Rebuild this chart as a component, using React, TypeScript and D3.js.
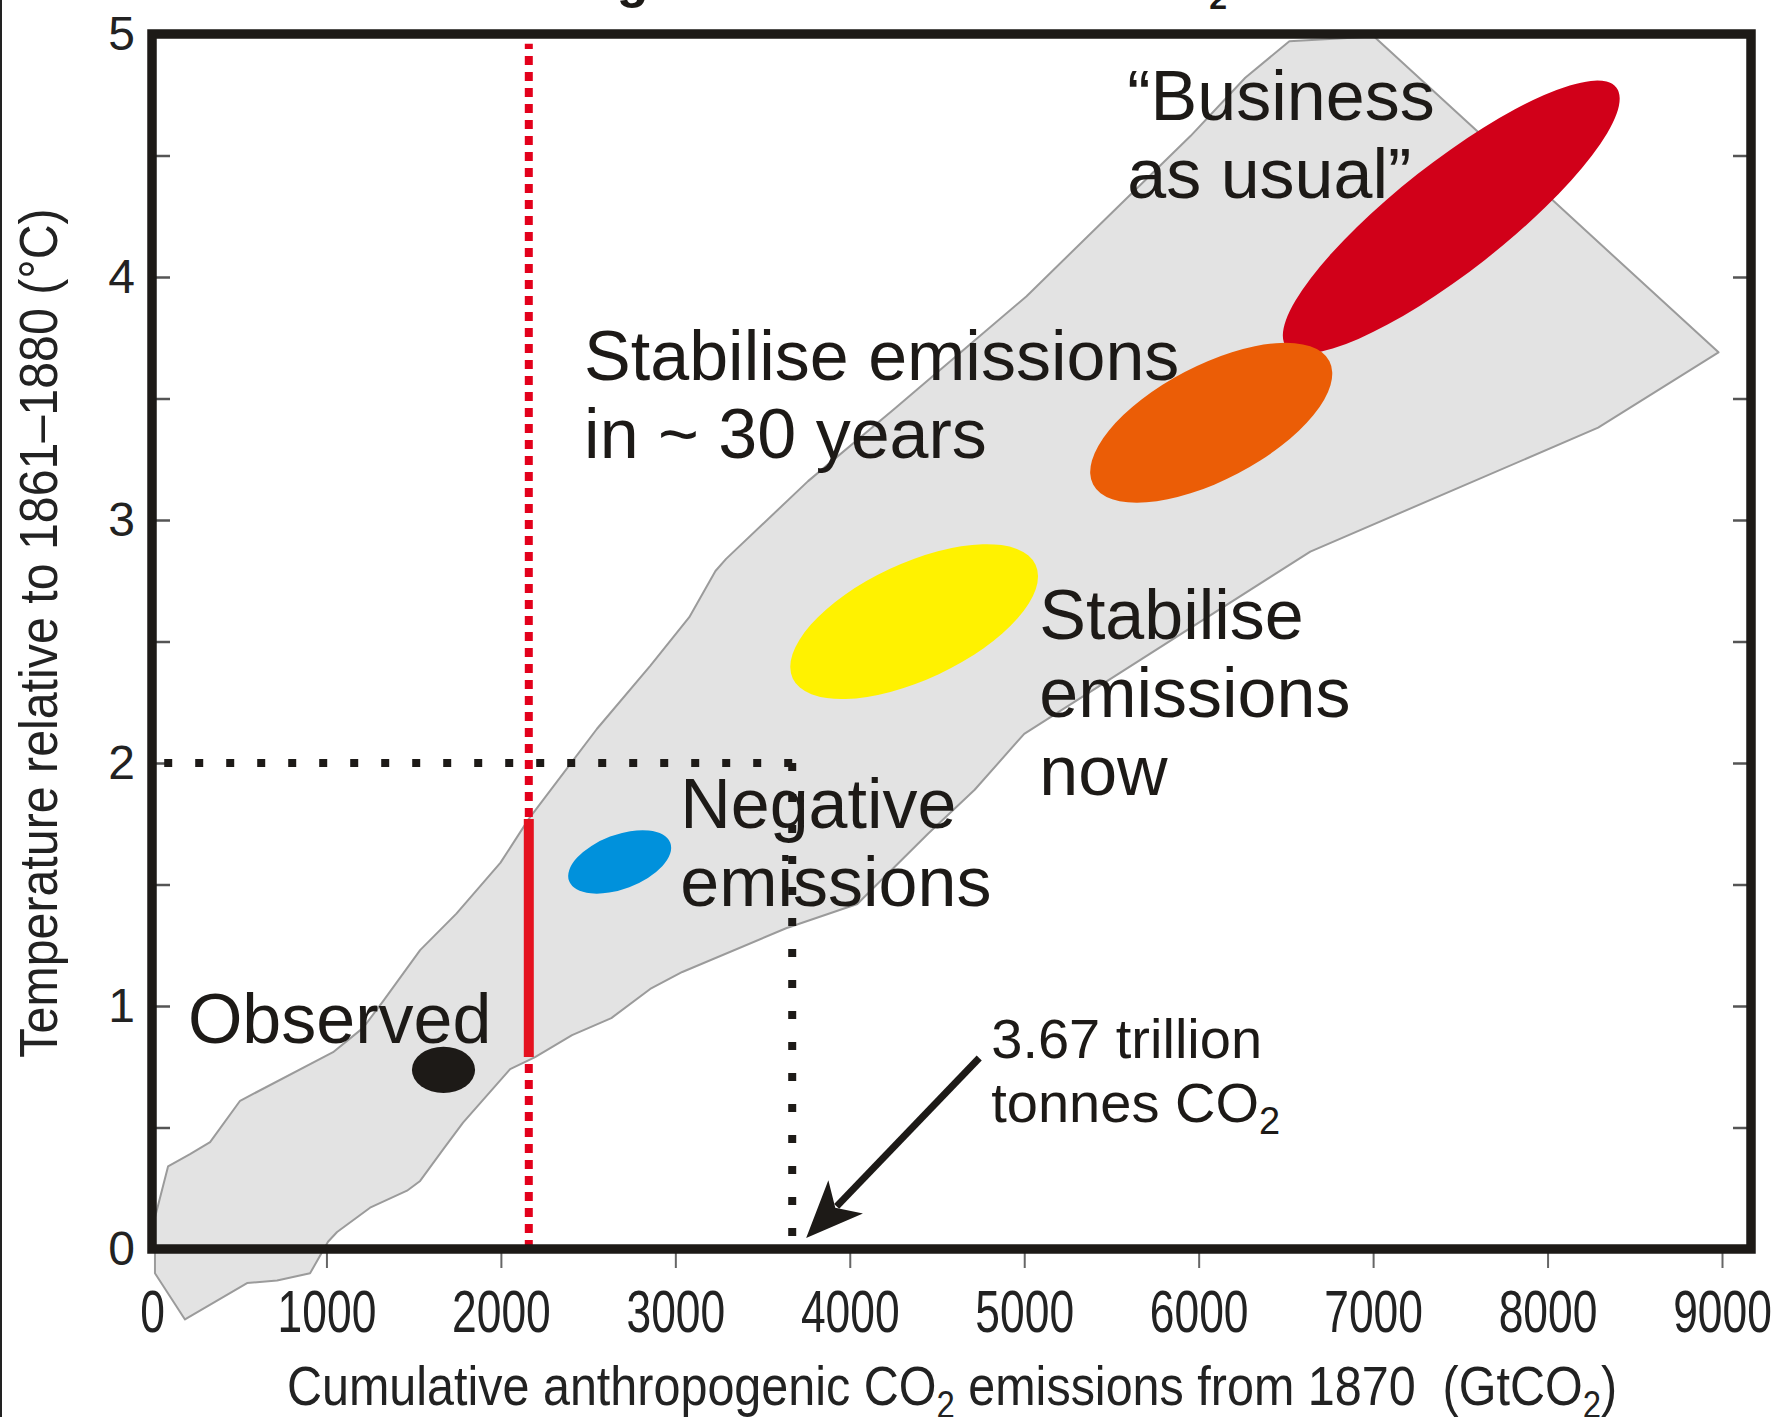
import { useEffect, useRef } from "react";
import * as d3 from "d3";

const WIDTH = 1788;
const HEIGHT = 1417;

const xTicks = [0, 1000, 2000, 3000, 4000, 5000, 6000, 7000, 8000, 9000];
const yTicks = [0, 1, 2, 3, 4, 5];
const yMinorTicks = [0.5, 1, 1.5, 2, 2.5, 3, 3.5, 4, 4.5];

// model envelope (GtCO2, °C): lower edge left -> right
const envelopeLower: [number, number][] = [
  [17, 0.13], [17, -0.1], [189, -0.29], [545, -0.14], [717, -0.13], [906, -0.1],
  [1009, 0.03], [1061, 0.07], [1250, 0.17], [1462, 0.24], [1537, 0.28], [1669, 0.41],
  [1783, 0.52], [2053, 0.74], [2196, 0.79], [2408, 0.88], [2633, 0.95], [2856, 1.07],
  [3040, 1.14], [3635, 1.32], [4043, 1.42], [4450, 1.71], [4716, 1.89], [5000, 2.12],
  [6640, 2.87], [8290, 3.38], [8980, 3.69],
];
// upper edge right -> left
const envelopeUpper: [number, number][] = [
  [7005, 4.99], [6520, 4.97], [6267, 4.82], [5953, 4.58], [5482, 4.25], [5012, 3.92],
  [4702, 3.73], [4260, 3.46], [3761, 3.16], [3291, 2.84], [3230, 2.79], [3080, 2.6],
  [2856, 2.4], [2550, 2.14], [2160, 1.77], [1998, 1.59], [1745, 1.38], [1537, 1.23],
  [1325, 1.02], [1210, 0.91], [1038, 0.81], [505, 0.61], [333, 0.44], [218, 0.39], [92, 0.34],
];

// scenario blobs, drawn in this order (orange sits over red)
const scenarioNames = ["Observed", "Negative emissions", "Stabilise emissions now", "Business as usual", "Stabilise emissions in ~30 years"];
const scenarioCentre: [number, number][] = [[1671, 0.737], [2681, 1.593], [4369, 2.582], [7448, 4.247], [6072, 3.4]];
const scenarioAxisEnd: [number, number][] = [[1852, 0.737], [2971, 1.672], [5065, 2.816], [8394, 4.78], [6749, 3.654]];
const scenarioAspect = [0.73, 0.5, 0.433, 0.26, 0.43];
const scenarioColour = ["#1d1a17", "#0091dc", "#fff200", "#d10019", "#eb5d06"];

const labelLines: string[][] = [
  ["Observed"],
  ["Negative", "emissions"],
  ["Stabilise", "emissions", "now"],
  ["\u201cBusiness", "as usual\u201d"],
  ["Stabilise emissions", "in ~ 30 years"],
];
const labelAnchor: [number, number][] = [[206, 0.848], [3028, 1.733], [5086, 2.51], [5591, 4.646], [2477, 3.576]];

const budget = 3670; // GtCO2 for 2 °C
const warmingTarget = 2;
const emittedSoFar = 2160;
const emittedRange: [number, number] = [0.79, 1.77];
const dashedTop = 4.96;
const dottedStart = 60;

const arrowFrom: [number, number] = [4742, 0.786];
const arrowTo: [number, number] = [3750, 0.045];
const budgetLabelAnchor: [number, number] = [4811, 0.786];

const INK = "#1d1a17";
const SANS = "'Liberation Sans', Arial, sans-serif";

export default function App() {
  const ref = useRef<SVGSVGElement>(null);

  useEffect(() => {
    if (!ref.current) return;
    const svg = d3.select(ref.current);
    svg.selectAll("*").remove();

    const frame = { left: 152, top: 34, right: 1751, bottom: 1249 };
    const x = d3.scaleLinear().domain([0, 9000]).range([frame.left, 1722]);
    const y = d3.scaleLinear().domain([0, 5]).range([frame.bottom, frame.top]);

    // left page edge
    svg.append("rect").attr("x", 0).attr("y", 0).attr("width", 2).attr("height", HEIGHT).attr("fill", "#222");

    // title, cropped off the top in the source
    const title = svg.append("text")
      .attr("x", 428).attr("y", -3)
      .attr("font-family", SANS).attr("font-weight", "bold").attr("font-size", 52).attr("fill", INK);
    title.append("tspan").text("Warming versus cumulative CO");
    title.append("tspan").attr("font-size", 32).attr("dy", 12).text("2");
    title.append("tspan").attr("dy", -12).text(" emissions");

    // envelope
    const area = d3.line<[number, number]>()
      .x((d) => x(d[0]))
      .y((d) => y(d[1]))
      .curve(d3.curveLinearClosed);
    svg.append("path")
      .attr("d", area([...envelopeLower, ...envelopeUpper]))
      .attr("fill", "#e3e3e3")
      .attr("stroke", "#9b9b9b")
      .attr("stroke-width", 2)
      .attr("stroke-linejoin", "round");

    // inner ticks on both sides
    svg.append("g")
      .attr("transform", `translate(${frame.left},0)`)
      .call(d3.axisLeft(y).tickValues(yMinorTicks).tickSize(-18).tickFormat(() => ""))
      .call((g) => g.select(".domain").remove())
      .selectAll("line").attr("stroke", "#555").attr("stroke-width", 2.5);
    svg.append("g")
      .attr("transform", `translate(${frame.right},0)`)
      .call(d3.axisRight(y).tickValues(yMinorTicks).tickSize(-18).tickFormat(() => ""))
      .call((g) => g.select(".domain").remove())
      .selectAll("line").attr("stroke", "#555").attr("stroke-width", 2.5);

    // y tick labels
    const yAx = svg.append("g")
      .attr("transform", `translate(${frame.left},0)`)
      .call(d3.axisLeft(y).tickValues(yTicks).tickSize(0).tickPadding(17).tickFormat(d3.format("d")));
    yAx.select(".domain").remove();
    yAx.selectAll("text").attr("font-family", SANS).attr("font-size", 48).attr("fill", "#222");

    // x axis
    const xAx = svg.append("g")
      .attr("transform", `translate(0,${frame.bottom})`)
      .call(d3.axisBottom(x).tickValues(xTicks).tickSize(19).tickPadding(21).tickFormat(d3.format("d")));
    xAx.select(".domain").remove();
    xAx.selectAll("line").attr("stroke", "#666").attr("stroke-width", 2)
      .filter((d) => d === 0).remove();
    xAx.selectAll("text")
      .attr("font-family", SANS).attr("font-size", 60).attr("fill", "#222")
      .attr("transform", "scale(0.74,1)");

    // red line: emissions to date
    svg.append("line")
      .attr("x1", x(emittedSoFar)).attr("x2", x(emittedSoFar))
      .attr("y1", y(0)).attr("y2", y(dashedTop))
      .attr("stroke", "#e3001b").attr("stroke-width", 8).attr("stroke-dasharray", "9 7");
    svg.append("line")
      .attr("x1", x(emittedSoFar)).attr("x2", x(emittedSoFar))
      .attr("y1", y(emittedRange[0])).attr("y2", y(emittedRange[1]))
      .attr("stroke", "#e5121f").attr("stroke-width", 10);

    // 2 °C budget dotted lines
    svg.append("line")
      .attr("x1", x(budget)).attr("x2", x(dottedStart))
      .attr("y1", y(warmingTarget)).attr("y2", y(warmingTarget))
      .attr("stroke", INK).attr("stroke-width", 8).attr("stroke-dasharray", "8 23");
    svg.append("line")
      .attr("x1", x(budget)).attr("x2", x(budget))
      .attr("y1", y(warmingTarget)).attr("y2", y(0))
      .attr("stroke", INK).attr("stroke-width", 8).attr("stroke-dasharray", "8 23");

    // scenario ellipses
    scenarioNames.forEach((name, i) => {
      const cx = x(scenarioCentre[i][0]);
      const cy = y(scenarioCentre[i][1]);
      const ex = x(scenarioAxisEnd[i][0]);
      const ey = y(scenarioAxisEnd[i][1]);
      const a = Math.hypot(ex - cx, ey - cy);
      const angle = (Math.atan2(ey - cy, ex - cx) * 180) / Math.PI;
      svg.append("ellipse")
        .attr("class", name)
        .attr("cx", cx).attr("cy", cy)
        .attr("rx", a).attr("ry", a * scenarioAspect[i])
        .attr("transform", `rotate(${angle},${cx},${cy})`)
        .attr("fill", scenarioColour[i]);
    });

    // labels
    labelLines.forEach((lines, i) => {
      const t = svg.append("text")
        .attr("font-family", SANS).attr("font-size", 70).attr("fill", INK);
      lines.forEach((line, j) => {
        t.append("tspan")
          .attr("x", x(labelAnchor[i][0]))
          .attr("y", y(labelAnchor[i][1]) + j * 78)
          .text(line);
      });
    });

    // arrow to the budget
    const p0: [number, number] = [x(arrowFrom[0]), y(arrowFrom[1])];
    const p1: [number, number] = [x(arrowTo[0]), y(arrowTo[1])];
    const len = Math.hypot(p0[0] - p1[0], p0[1] - p1[1]);
    const ux = (p0[0] - p1[0]) / len;
    const uy = (p0[1] - p1[1]) / len;
    const px = -uy;
    const py = ux;
    svg.append("line")
      .attr("x1", p0[0]).attr("y1", p0[1])
      .attr("x2", p1[0] + ux * 44).attr("y2", p1[1] + uy * 44)
      .attr("stroke", INK).attr("stroke-width", 7);
    const head: [number, number][] = [
      p1,
      [p1[0] + ux * 57 + px * 24, p1[1] + uy * 57 + py * 24],
      [p1[0] + ux * 42, p1[1] + uy * 42],
      [p1[0] + ux * 57 - px * 24, p1[1] + uy * 57 - py * 24],
    ];
    svg.append("polygon").attr("points", head.map((p) => p.join(",")).join(" ")).attr("fill", INK);

    const bl = svg.append("text").attr("font-family", SANS).attr("font-size", 56).attr("fill", INK);
    bl.append("tspan").attr("x", x(budgetLabelAnchor[0])).attr("y", y(budgetLabelAnchor[1])).text("3.67 trillion");
    bl.append("tspan").attr("x", x(budgetLabelAnchor[0])).attr("y", y(budgetLabelAnchor[1]) + 64).text("tonnes CO");
    bl.append("tspan").attr("font-size", 38).attr("dy", 12).text("2");

    // axis titles
    const xt = svg.append("g").attr("transform", "translate(952,1405) scale(0.866,1)")
      .append("text")
      .attr("text-anchor", "middle")
      .attr("font-family", SANS).attr("font-size", 56).attr("fill", "#222")
      .style("white-space", "pre");
    xt.append("tspan").text("Cumulative anthropogenic CO");
    xt.append("tspan").attr("font-size", 38).attr("dy", 13).text("2");
    xt.append("tspan").attr("dy", -13).text(" emissions from 1870  (GtCO");
    xt.append("tspan").attr("font-size", 38).attr("dy", 13).text("2");
    xt.append("tspan").attr("dy", -13).text(")");

    svg.append("text")
      .attr("transform", "translate(57,633) rotate(-90) scale(0.895,1)")
      .attr("text-anchor", "middle")
      .attr("font-family", SANS).attr("font-size", 54).attr("fill", "#222")
      .text("Temperature relative to 1861\u20131880 (\u00b0C)");

    // frame
    svg.append("rect")
      .attr("x", frame.left).attr("y", frame.top)
      .attr("width", frame.right - frame.left).attr("height", frame.bottom - frame.top)
      .attr("fill", "none").attr("stroke", INK).attr("stroke-width", 9.5);
  }, []);

  return (
    <>
      <style>{"body{margin:0;background:#fff}"}</style>
      <svg ref={ref} width={WIDTH} height={HEIGHT} style={{ display: "block", background: "#fff" }} />
    </>
  );
}
